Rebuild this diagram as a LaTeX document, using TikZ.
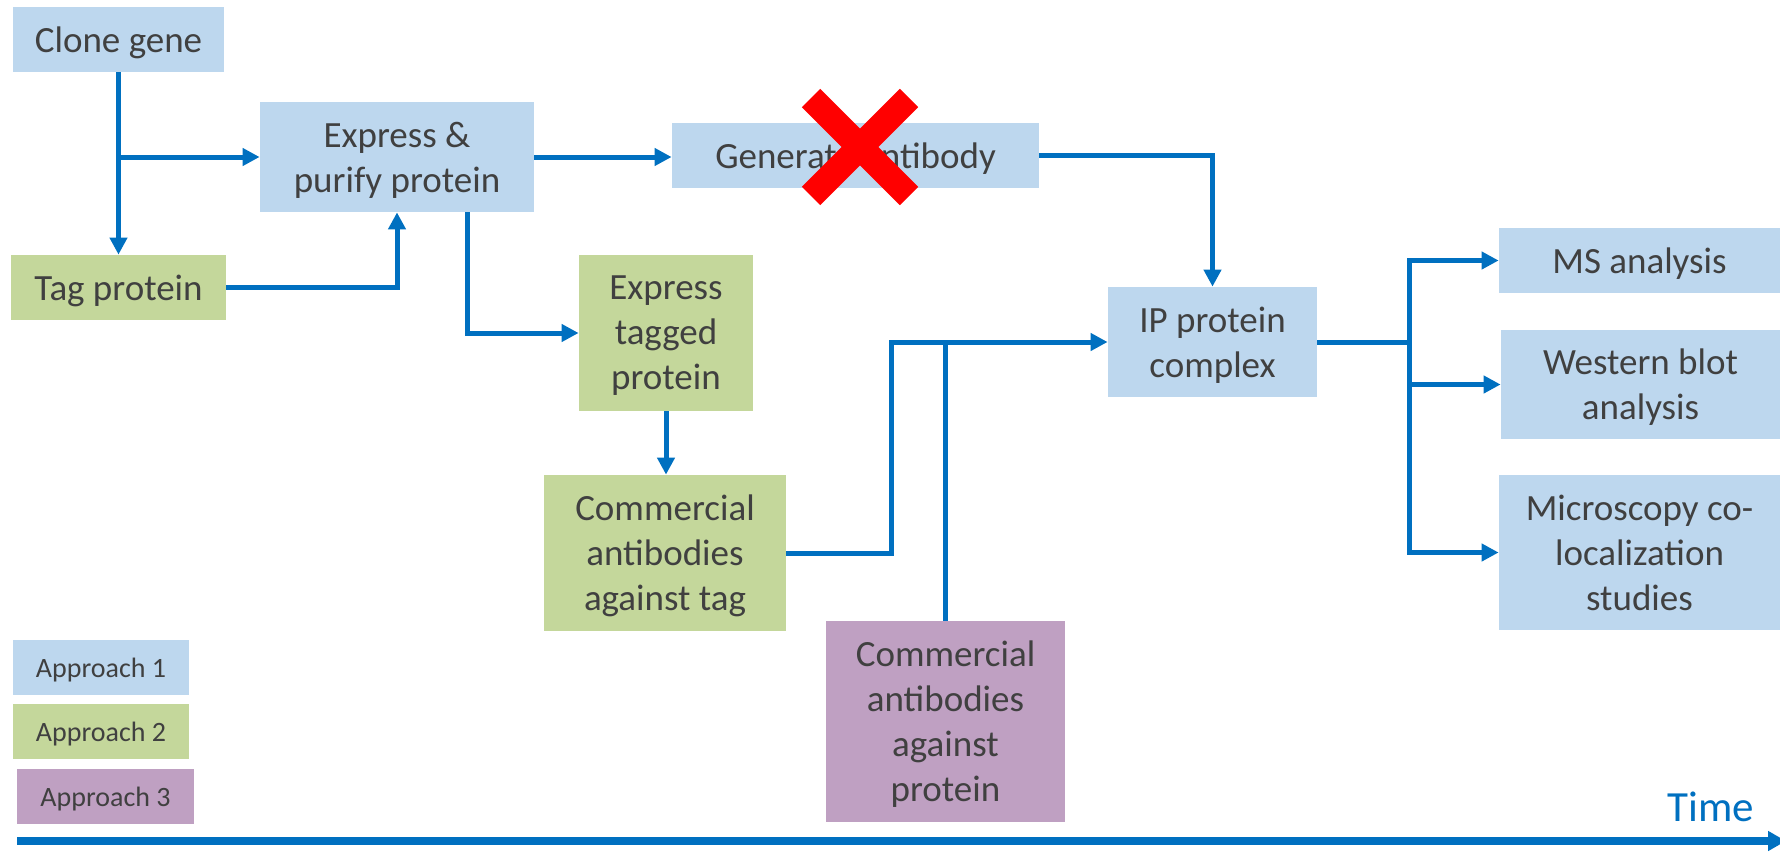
\documentclass[tikz,border=0pt]{standalone}
\usepackage{fontspec}
\setmainfont{Carlito}
\usetikzlibrary{arrows.meta,calc}
\definecolor{bluebox}{HTML}{BDD7EE}
\definecolor{greenbox}{HTML}{C4D79B}
\definecolor{purplebox}{HTML}{BFA0C2}
\definecolor{connblue}{HTML}{0070C0}
\definecolor{txt}{HTML}{404040}
\definecolor{xred}{HTML}{FF0000}
\begin{document}
\begin{tikzpicture}[x=0.5pt,y=-0.5pt,
  box/.style={inner sep=0pt, align=center, text=txt, text depth=0pt, font=\fontsize{18.5}{22.5}\selectfont},
  bbox/.style={box, fill=bluebox},
  gbox/.style={box, fill=greenbox},
  pbox/.style={box, fill=purplebox},
  legend/.style={inner sep=0pt, align=center, text=txt, text depth=0pt, font=\fontsize{14}{17}\selectfont, minimum height=27.5pt},
  link/.style={draw=connblue, line width=2.5pt},
  arr/.style={link, -{Triangle[length=8.5pt,width=8.5pt]}},
  timearr/.style={draw=connblue, line width=4.3pt, -{Triangle[length=9pt,width=9.5pt]}},
]
\useasboundingbox (0,0) rectangle (1780,851);

% boxes
\node[bbox, minimum width=105.5pt, minimum height=32.5pt] (clone) at (118.5,39.5) {Clone gene};
\node[bbox, minimum width=137pt, minimum height=55pt] (express) at (397,157) {Express \&\\purify protein};
\node[gbox, minimum width=107.5pt, minimum height=32.5pt] (tag) at (118.5,287.5) {Tag protein};
\node[bbox, minimum width=183.5pt, minimum height=32.5pt] (genab) at (855.5,155.5) {Generate antibody};
\node[gbox, minimum width=87pt, minimum height=78pt] (exptag) at (666,333) {Express\\tagged\\protein};
\node[gbox, minimum width=121pt, minimum height=78pt] (comtag) at (665,553) {Commercial\\antibodies\\against tag};
\node[bbox, minimum width=104.5pt, minimum height=55pt] (ip) at (1212.5,342) {IP protein\\complex};
\node[bbox, minimum width=140.5pt, minimum height=32.5pt] (ms) at (1639.5,260.5) {MS analysis};
\node[bbox, minimum width=139.5pt, minimum height=54.5pt] (wb) at (1640.5,384.5) {Western blot\\analysis};
\node[bbox, minimum width=140.5pt, minimum height=77.5pt] (micro) at (1639.5,552.5) {Microscopy co-\\localization\\studies};
\node[pbox, minimum width=119.5pt, minimum height=100.5pt] (comprot) at (945.5,721.5) {Commercial\\antibodies\\against\\protein};

% legend
\node[legend, fill=bluebox, minimum width=88pt] (ap1) at (101,667.5) {Approach 1};
\node[legend, fill=greenbox, minimum width=88pt] (ap2) at (101,731.5) {Approach 2};
\node[legend, fill=purplebox, minimum width=88.5pt] (ap3) at (105.5,796.5) {Approach 3};

% connectors
\draw[arr] (clone.south) -- (tag.north);
\draw[arr] (clone.south |- express.west) -- (express.west);
\draw[arr] (tag.east) -| (express.south);
\draw[arr] (express.east) -- (express.east -| genab.west);
\draw[arr] ([xshift=35pt]express.south) |- (exptag.west);
\draw[arr] (exptag.south) -- (exptag.south |- comtag.north);
\draw[arr] (comtag.east) -- ++(105,0) |- (ip.west);
\draw[link] (comprot.north) -- (comprot.north |- ip.west);
\draw[arr] (genab.east) -| (ip.north);
\draw[link] (ip.east) -- ++(92,0) coordinate (split);
\draw[arr] (split) |- (ms.west);
\draw[arr] (split) |- (wb.west);
\draw[arr] (split) |- (micro.west);

% red cross
\draw[xred, line width=13pt] (811,98) -- (909,196) (909,98) -- (811,196);

% time axis
\coordinate (t0) at (17,841);
\coordinate (t1) at (1786,841);
\draw[timearr] (t0) -- (t1);
\node[inner sep=0pt, text=connblue, font=\fontsize{21.5}{26}\selectfont] (time) at (1711,807) {Time};
\end{tikzpicture}
\end{document}
